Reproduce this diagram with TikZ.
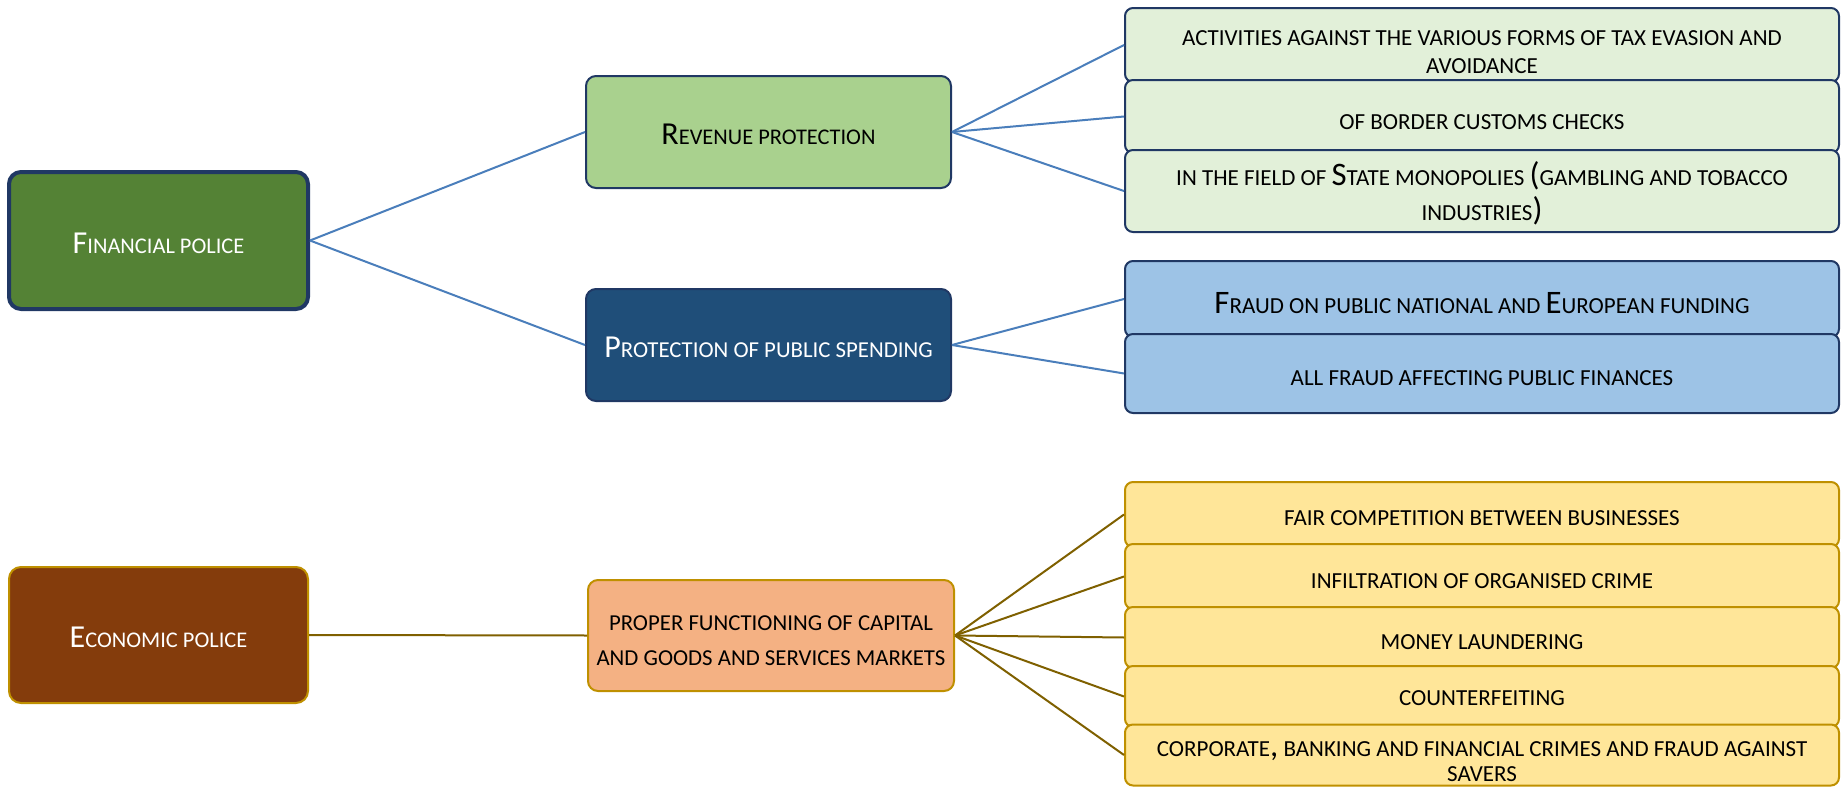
\documentclass[tikz,border=0pt]{standalone}
\usepackage{fontspec}
\setmainfont{Carlito}
\definecolor{navy}{HTML}{203864}
\definecolor{fingreen}{HTML}{548235}
\definecolor{revgreen}{HTML}{A9D18E}
\definecolor{leafgreen}{HTML}{E2F0D9}
\definecolor{protblue}{HTML}{1F4E79}
\definecolor{leafblue}{HTML}{9DC3E6}
\definecolor{ecobrown}{HTML}{843C0C}
\definecolor{gold}{HTML}{BF9000}
\definecolor{propor}{HTML}{F4B183}
\definecolor{leafyel}{HTML}{FFE699}
\definecolor{bline}{HTML}{4A7EBB}
\definecolor{brline}{HTML}{7F6000}
\def\bgsize{16}
\newcommand\Bg[1]{{\fontsize{\bgsize}{19}\selectfont #1}}
\tikzset{
  base/.style={draw, line width=1pt, inner sep=0pt},
  topbox/.style={base, rounded corners=6pt, minimum width=149.5pt, minimum height=68.5pt},
  midbox/.style={base, rounded corners=5pt, minimum width=182.5pt, minimum height=56pt},
  leaf/.style={base, rounded corners=4pt, minimum width=357pt},
  greenleaf/.style={leaf, fill=leafgreen, draw=navy},
  blueleaf/.style={leaf, fill=leafblue, draw=navy},
  yelleaf/.style={leaf, fill=leafyel, draw=gold},
  txt/.style={align=center, inner sep=0pt, font=\fontsize{11.2}{13.5}\selectfont},
  ltxt/.style={align=center, inner sep=0pt, font=\fontsize{11.5}{14}\selectfont\def\bgsize{16.4}},
  bconn/.style={draw=bline, line width=1pt},
  brconn/.style={draw=brline, line width=1pt}
}
\begin{document}
\begin{tikzpicture}[x=0.5pt,y=-0.5pt]
\useasboundingbox (0,0) rectangle (1844,787);
% top-level
\node[topbox, fill=fingreen, draw=navy, line width=2pt] (fin) at (158.5,240.5) {};
\node[txt, text=white] (fint) at ([yshift=-1.2pt]fin.center) {\Bg{F}INANCIAL POLICE};
\node[topbox, fill=ecobrown, draw=gold, minimum height=68pt] (eco) at (158.5,635) {};
\node[txt, text=white] (ecot) at ([yshift=-1.2pt]eco.center) {\Bg{E}CONOMIC POLICE};
% middle
\node[midbox, fill=revgreen, draw=navy] (rev) at (768.5,132) {};
\node[txt] (revt) at ([yshift=-1.2pt]rev.center) {\Bg{R}EVENUE PROTECTION};
\node[midbox, fill=protblue, draw=navy] (prot) at (768.5,345) {};
\node[txt, text=white, font=\fontsize{11.4}{13.5}\selectfont] (prott) at ([yshift=-1.2pt]prot.center) {\Bg{P}ROTECTION OF PUBLIC SPENDING};
\node[midbox, fill=propor, draw=gold, minimum width=183pt, minimum height=55.5pt] (prop) at (771,635.5) {};
\node[txt, font=\fontsize{11.4}{17.5}\selectfont] (propt) at ([yshift=-2.6pt]prop.center) {PROPER FUNCTIONING OF CAPITAL\\AND GOODS AND SERVICES MARKETS};
% green leaves
\node[greenleaf, minimum height=37pt] (g1) at (1482,45) {};
\node[ltxt] (g1t) at ([yshift=-3.6pt]g1.center) {ACTIVITIES AGAINST THE VARIOUS FORMS OF TAX EVASION AND\\AVOIDANCE};
\node[greenleaf, minimum height=36.5pt] (g2) at (1482,116.5) {};
\node[ltxt] (g2t) at ([yshift=-2.8pt]g2.center) {OF BORDER CUSTOMS CHECKS};
\node[greenleaf, minimum height=41pt] (g3) at (1482,191) {};
\node[ltxt, font=\fontsize{11.5}{17.5}\selectfont\def\bgsize{16.4}] (g3t) at ([yshift=-0.9pt]g3.center) {IN THE FIELD OF \Bg{S}TATE MONOPOLIES \Bg{(}GAMBLING AND TOBACCO\\INDUSTRIES\Bg{)}};
% blue leaves
\node[blueleaf, minimum height=38pt] (b1) at (1482,299) {};
\node[ltxt] (b1t) at ([yshift=-1.8pt]b1.center) {\Bg{F}RAUD ON PUBLIC NATIONAL AND \Bg{E}UROPEAN FUNDING};
\node[blueleaf, minimum height=39.5pt] (b2) at (1482,373.5) {};
\node[ltxt] (b2t) at ([yshift=-2.4pt]b2.center) {ALL FRAUD AFFECTING PUBLIC FINANCES};
% yellow leaves
\node[yelleaf, minimum height=32.5pt] (y1) at (1482,514.5) {};
\node[ltxt] (y1t) at ([yshift=-1.8pt]y1.center) {FAIR COMPETITION BETWEEN BUSINESSES};
\node[yelleaf, minimum height=32.5pt] (y2) at (1482,576.5) {};
\node[ltxt] (y2t) at ([yshift=-2.4pt]y2.center) {INFILTRATION OF ORGANISED CRIME};
\node[yelleaf, minimum height=30.5pt] (y3) at (1482,637.5) {};
\node[ltxt] (y3t) at ([yshift=-2.4pt]y3.center) {MONEY LAUNDERING};
\node[yelleaf, minimum height=30.5pt] (y4) at (1482,696.5) {};
\node[ltxt] (y4t) at ([yshift=-0.8pt]y4.center) {COUNTERFEITING};
\node[yelleaf, minimum height=30.5pt] (y5) at (1482,755) {};
\node[ltxt, font=\fontsize{11.5}{12.5}\selectfont\def\bgsize{16.4}] (y5t) at ([yshift=-3.4pt]y5.center) {CORPORATE\Bg{,} BANKING AND FINANCIAL CRIMES AND FRAUD AGAINST\\SAVERS};
% connectors
\draw[bconn] (fin.east) -- (rev.west);
\draw[bconn] (fin.east) -- (prot.west);
\draw[bconn] (rev.east) -- (g1.west);
\draw[bconn] (rev.east) -- (g2.west);
\draw[bconn] (rev.east) -- (g3.west);
\draw[bconn] (prot.east) -- (b1.west);
\draw[bconn] (prot.east) -- (b2.west);
\draw[brconn] (eco.east) -- (prop.west);
\foreach \n in {y1,y2,y3,y4,y5} \draw[brconn] (prop.east) -- (\n.west);
\end{tikzpicture}
\end{document}
